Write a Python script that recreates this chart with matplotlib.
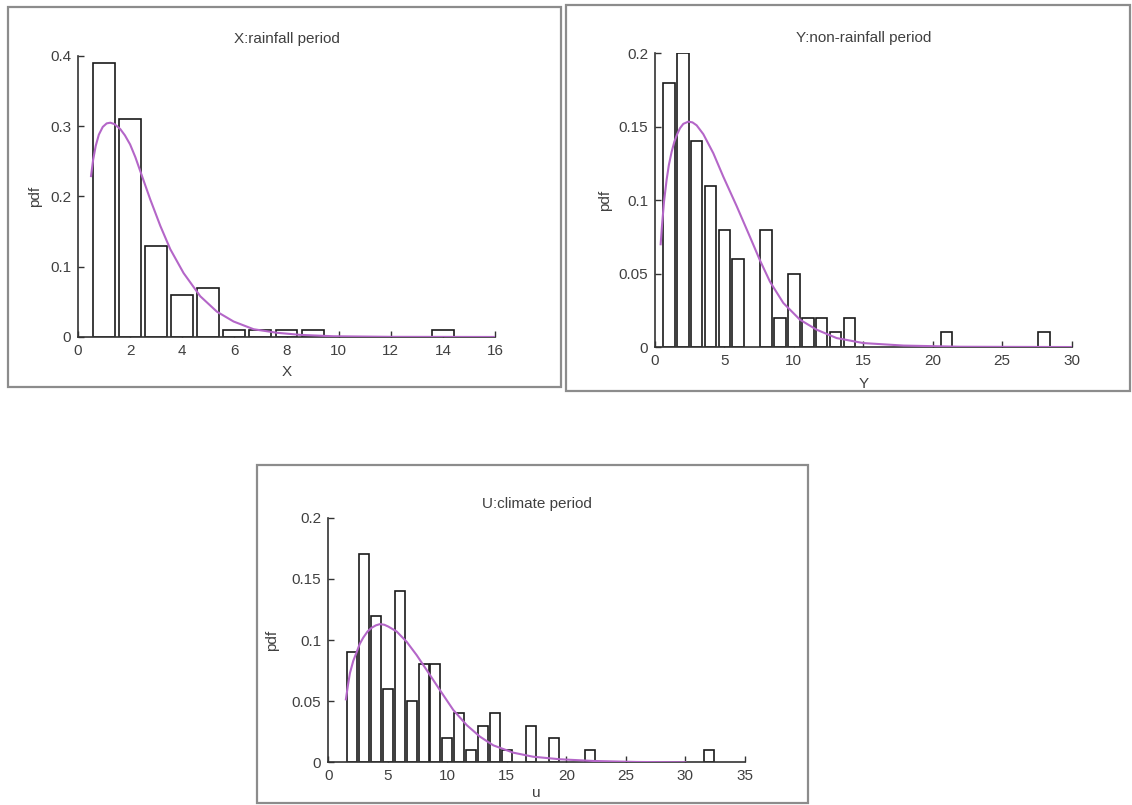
import matplotlib
matplotlib.use('Agg')
import matplotlib.pyplot as plt
from matplotlib.patches import Rectangle
from matplotlib.ticker import FormatStrFormatter

plt.rcParams['font.family'] = ['Liberation Sans', 'DejaVu Sans']

# X: rainfall period
x_bins = [1, 2, 3, 4, 5, 6, 7, 8, 9, 14]
x_pdf = [0.39, 0.31, 0.13, 0.06, 0.07, 0.01, 0.01, 0.01, 0.01, 0.01]
x_fit_x = [0.5, 0.58, 0.68, 0.8, 0.95, 1.1, 1.24, 1.4, 1.62, 1.8, 2.0, 2.2, 2.39,
           2.77, 3.16, 3.54, 4.05, 4.69, 5.33, 5.97, 6.74, 7.63, 8.53, 9.8, 12.0, 16.0]
x_fit_y = [0.229, 0.252, 0.272, 0.288, 0.299, 0.304, 0.305, 0.303, 0.296, 0.287,
           0.274, 0.256, 0.236, 0.196, 0.158, 0.125, 0.091, 0.058, 0.036, 0.022,
           0.011, 0.006, 0.003, 0.001, 0.0002, 0.0]

# Y: non-rainfall period
y_bins = [1, 2, 3, 4, 5, 6, 8, 9, 10, 11, 12, 13, 14, 21, 28]
y_pdf = [0.18, 0.2, 0.14, 0.11, 0.08, 0.06, 0.08, 0.02, 0.05, 0.02, 0.02, 0.01,
         0.02, 0.01, 0.01]
y_fit_x = [0.41, 0.5, 0.65, 0.84, 1.0, 1.2, 1.4, 1.6, 1.8, 2.04, 2.4, 2.7, 3.0,
           3.48, 4.2, 4.92, 5.88, 6.84, 7.56, 8.28, 9.24, 10.44, 11.64, 13.08,
           15.0, 17.9, 22.0, 30.0]
y_fit_y = [0.070, 0.082, 0.099, 0.114, 0.124, 0.133, 0.140, 0.145, 0.149, 0.152,
           0.1535, 0.153, 0.151, 0.145, 0.132, 0.116, 0.096, 0.075, 0.059, 0.0445,
           0.030, 0.0186, 0.0118, 0.0061, 0.0027, 0.001, 0.0002, 0.0]

# U: climate period
u_bins = [2, 3, 4, 5, 6, 7, 8, 9, 10, 11, 12, 13, 14, 15, 17, 19, 22, 32]
u_pdf = [0.09, 0.17, 0.12, 0.06, 0.14, 0.05, 0.08, 0.08, 0.02, 0.04, 0.01, 0.03,
         0.04, 0.01, 0.03, 0.02, 0.01, 0.01]
u_fit_x = [1.48, 1.65, 1.82, 2.1, 2.38, 2.65, 2.94, 3.3, 3.64, 4.0, 4.34, 4.7,
           5.04, 5.74, 6.58, 7.42, 8.26, 9.38, 10.5, 11.62, 12.74, 13.86, 15.54,
           17.2, 19.46, 22.3, 25.9, 30.0]
u_fit_y = [0.0515, 0.063, 0.073, 0.083, 0.090, 0.097, 0.102, 0.107, 0.110, 0.112,
           0.113, 0.1125, 0.111, 0.107, 0.0986, 0.0877, 0.0755, 0.059, 0.0428,
           0.0305, 0.021, 0.0139, 0.0079, 0.0046, 0.0025, 0.0011, 0.0003, 0.0]

panels = [
    dict(title='X:rainfall period', xlabel='X', bins=x_bins, pdf=x_pdf,
         fx=x_fit_x, fy=x_fit_y, xlim=(0, 16), xstep=2, ylim=(0, 0.4), ystep=0.1,
         rect=[0.0689, 0.5814, 0.3684, 0.3491], pad=9, ylx=-0.103),
    dict(title='Y:non-rainfall period', xlabel='Y', bins=y_bins, pdf=y_pdf,
         fx=y_fit_x, fy=y_fit_y, xlim=(0, 30), xstep=5, ylim=(0, 0.2), ystep=0.05,
         rect=[0.5786, 0.5689, 0.3681, 0.3648], pad=8, ylx=-0.12),
    dict(title='U:climate period', xlabel='u', bins=u_bins, pdf=u_pdf,
         fx=u_fit_x, fy=u_fit_y, xlim=(0, 35), xstep=5, ylim=(0, 0.2), ystep=0.05,
         rect=[0.2900, 0.0530, 0.3681, 0.3039], pad=7, ylx=-0.135),
]

# gray frames around each sub-figure
frames = [(0.00707, 0.5193, 0.4885, 0.4720),
          (0.5, 0.5143, 0.4982, 0.4795),
          (0.2270, 0.0025, 0.4867, 0.4199)]

fig = plt.figure(figsize=(11.32, 8.05), dpi=100)

for fx0, fy0, fw, fh in frames:
    fig.patches.append(Rectangle((fx0, fy0), fw, fh, transform=fig.transFigure,
                                 fill=False, edgecolor='#8c8c8c', lw=1.6))

txt = '#404040'
for p in panels:
    ax = fig.add_axes(p['rect'])
    ax.bar(p['bins'], p['pdf'], width=0.84, color='white', edgecolor='#1a1a1a',
           linewidth=1.2, zorder=2)
    ax.plot(p['fx'], p['fy'], color='#b466c8', lw=1.5, zorder=3)
    ax.set_xlim(*p['xlim'])
    ax.set_ylim(*p['ylim'])
    n = int(round((p['xlim'][1] - p['xlim'][0]) / p['xstep']))
    ax.set_xticks([p['xstep'] * i for i in range(n + 1)])
    m = int(round((p['ylim'][1] - p['ylim'][0]) / p['ystep']))
    ax.set_yticks([round(p['ystep'] * i, 3) for i in range(m + 1)])
    ax.yaxis.set_major_formatter(FormatStrFormatter('%g'))
    for s in ['top', 'right']:
        ax.spines[s].set_visible(False)
    for s in ['left', 'bottom']:
        ax.spines[s].set_color('#333333')
        ax.spines[s].set_linewidth(1.2)
    ax.tick_params(axis='both', direction='in', length=4, width=1,
                   colors='#333333', labelsize=11, labelcolor=txt, pad=5)
    ax.set_title(p['title'], fontsize=11, color=txt, pad=p['pad'])
    ax.set_xlabel(p['xlabel'], fontsize=11, color=txt)
    ax.set_ylabel('pdf', fontsize=11, color=txt)
    ax.xaxis.set_label_coords(0.5, -0.125)
    ax.xaxis.label.set_va('center')
    ax.yaxis.set_label_coords(p['ylx'], 0.5)
    ax.yaxis.label.set_va('center')

plt.savefig('out.png', dpi=100)
